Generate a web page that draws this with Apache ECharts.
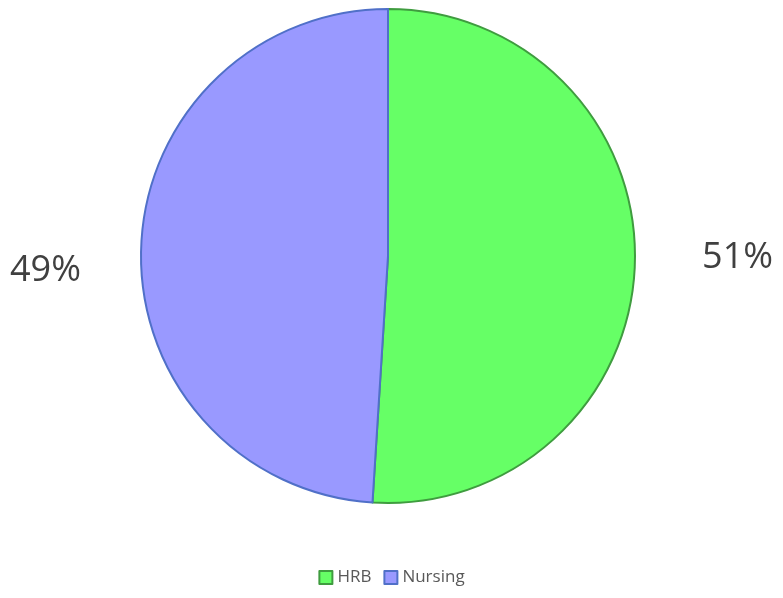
<!DOCTYPE html>
<html>
<head>
<meta charset="utf-8">
<script src="https://cdn.jsdelivr.net/npm/echarts@6/dist/echarts.min.js"></script>
<style>
html, body { margin: 0; padding: 0; background: #fff; }
#main { width: 783px; height: 598px; }
</style>
</head>
<body>
<div id="main"></div>
<script>
var categories = ["HRB", "Nursing"]
var values = [51, 49]
var fills = ["#66ff66", "#9999ff"]
var borders = ["#3f9c3f", "#5070c8"]
var labelShift = [-6, 23]

var chart = echarts.init(document.getElementById("main"))
chart.setOption({
    animation: false,
    legend: {
        bottom: 7, left: "center",
        itemWidth: 13, itemHeight: 13, itemGap: 12,
        icon: "rect",
        textStyle: {color: "#595959", fontSize: 17, fontFamily: "Open Sans"},
        data: categories
    },
    series: [{
        type: "pie",
        center: [388, 256], radius: [0, 247],
        startAngle: 90, clockwise: true,
        label: {
            show: true, position: "outside", alignTo: "edge", edgeDistance: 10,
            formatter: "{d}%", fontSize: 36, color: "#404040", fontFamily: "Open Sans"
        },
        labelLine: {show: false},
        labelLayout: function(p) { return {dy: labelShift[p.dataIndex]} },
        emphasis: {disabled: true},
        data: categories.map(function(name, i) {
            return {name: name, value: values[i],
                itemStyle: {color: fills[i], borderColor: borders[i], borderWidth: 2}}
        })
    }]
})
</script>
</body>
</html>
